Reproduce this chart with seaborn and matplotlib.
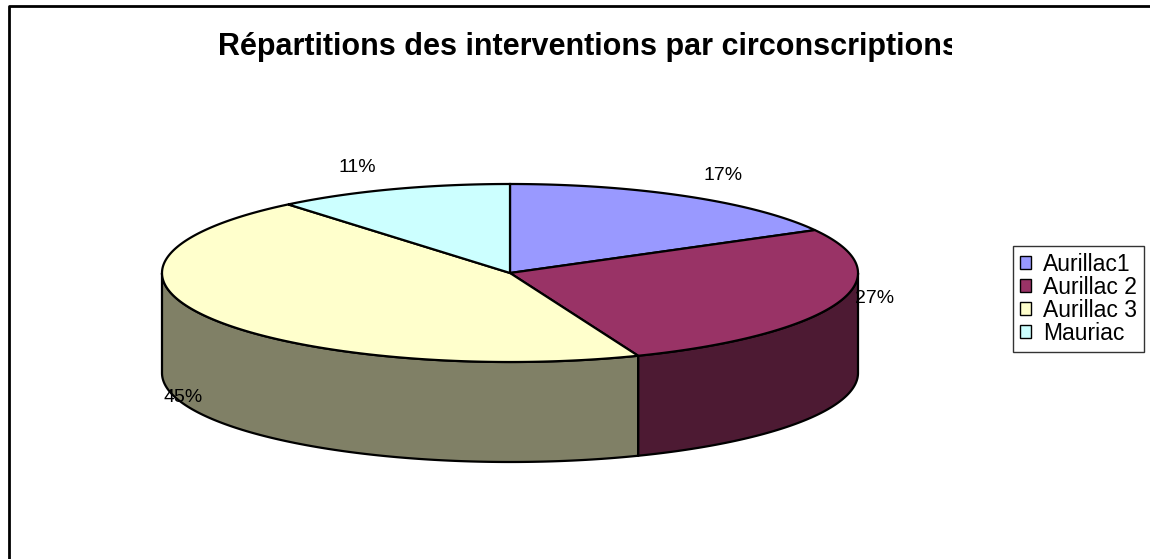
import numpy as np
import matplotlib
matplotlib.use("Agg")
import matplotlib.pyplot as plt
import seaborn as sns
from matplotlib.patches import Polygon, Patch, Rectangle

# data
categories = ["Aurillac1", "Aurillac 2", "Aurillac 3", "Mauriac"]
shares = [17, 27, 45, 11]
top_colors = ["#9999FF", "#993366", "#FFFFCC", "#CCFFFF"]
side_colors = ["#4D4D80", "#4D1A33", "#808066", "#668080"]
title = "Répartitions des interventions par circonscriptions"

sns.set_style("white")
plt.rcParams["font.family"] = ["Liberation Sans", "DejaVu Sans"]
plt.rcParams["text.color"] = "black"

# pie geometry in pixel units
cx, cy = 510, 273
rx, ry = 348, 89
depth = 100
label_nudge = [(9, -6), (-12, -61), (18, 20), (-17, -5)]


def ellipse_pts(t0, t1, dy=0, n=200):
    t = np.radians(np.linspace(t0, t1, n))
    return np.column_stack([cx + rx * np.cos(t), cy - ry * np.sin(t) + dy])


fig = plt.figure(figsize=(11.5, 5.59), dpi=100)
ax = fig.add_axes([0, 0, 1, 1])
ax.set_xlim(0, 1150)
ax.set_ylim(559, 0)
ax.axis("off")

fracs = np.array(shares) / sum(shares)
starts = 90 - 360 * np.concatenate([[0], np.cumsum(fracs)[:-1]])
ends = starts - 360 * fracs

# side walls (front half only)
for s, e, col in zip(starts, ends, side_colors):
    lo, hi = e, s
    for k in (-1, 0, 1):
        a = max(lo, -180 + 360 * k)
        b = min(hi, 0 + 360 * k)
        if b > a:
            top = ellipse_pts(b, a)
            bot = ellipse_pts(a, b, dy=depth)
            ax.add_patch(Polygon(np.vstack([top, bot]), closed=True,
                                 facecolor=col, edgecolor="black", lw=1.6))

# top faces
for s, e, col in zip(starts, ends, top_colors):
    arc = ellipse_pts(s, e)
    pts = np.vstack([[cx, cy], arc])
    ax.add_patch(Polygon(pts, closed=True, facecolor=col,
                         edgecolor="black", lw=1.6))

# percentage labels
for s, e, p, (nx, ny) in zip(starts, ends, shares, label_nudge):
    m = np.radians((s + e) / 2)
    lx = cx + 1.15 * rx * np.cos(m) + nx
    ly = cy - 1.2 * ry * np.sin(m) + (0.5 * depth if np.sin(m) < 0 else 0) + ny
    ax.text(lx, ly, f"{p}%", fontsize=14, ha="center", va="center")

t = ax.text(218, 47, title, fontsize=22, fontweight="bold",
            ha="left", va="center")
# title box cuts the last letter, as in the original
clip = Rectangle((0, 0), 952, 559, transform=ax.transData)
t.set_clip_path(clip)
t.set_clip_on(True)

# chart border
ax.plot([9, 9, 1160], [600, 5.5, 5.5], color="black", lw=2, clip_on=False)

handles = [Patch(facecolor=c, edgecolor="black", lw=1) for c in top_colors]
leg = ax.legend(handles, categories, loc="upper left",
                bbox_to_anchor=(1013 / 1150, 1 - 246 / 559),
                fontsize=16.5, frameon=True, fancybox=False,
                handlelength=0.5, handleheight=0.5, handletextpad=0.5,
                labelspacing=0.0, borderpad=0.3, borderaxespad=0)
leg.get_frame().set_edgecolor("black")
leg.get_frame().set_linewidth(1)

fig.savefig("out.png", dpi=100)
